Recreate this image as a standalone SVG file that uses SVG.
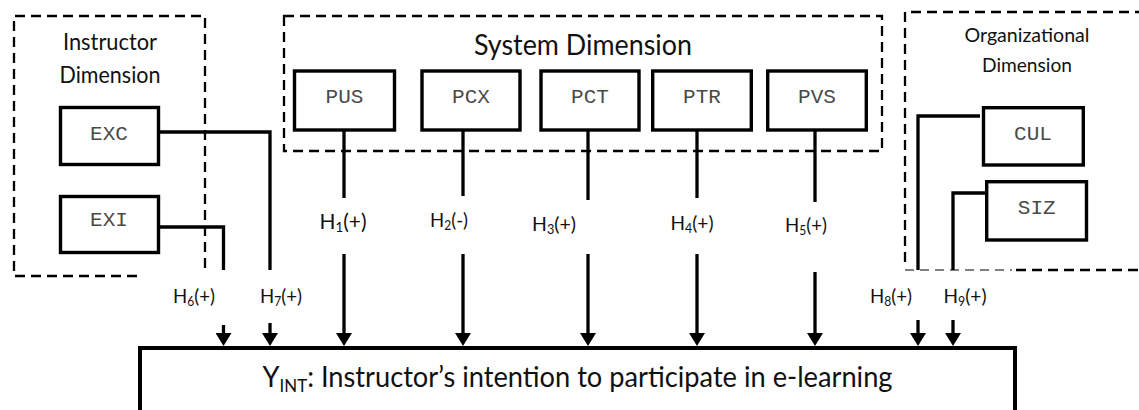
<svg xmlns="http://www.w3.org/2000/svg" width="1139" height="410" viewBox="0 0 1139 410">
  <defs>
    <marker id="head" viewBox="0 0 13 16" markerWidth="13" markerHeight="16" refX="7" refY="8" orient="auto" markerUnits="userSpaceOnUse">
      <path d="M0,0 L13,8 L0,16 Z" fill="#000"/>
    </marker>
    <style>
      .dash { fill: none; stroke: #000; stroke-width: 2.3; stroke-dasharray: 10 6; }
      .box { fill: #fff; stroke: #000; stroke-width: 3.4; }
      .code { font-family: "Liberation Mono", "Courier New", monospace; font-size: 21px; fill: #4a4a4a; text-anchor: middle; }
      .lbl { font-family: "Lato", "Open Sans", "Liberation Sans", sans-serif; fill: #111; text-anchor: middle; }
      .wire { fill: none; stroke: #000; stroke-width: 3.3; }
      .arr { fill: none; stroke: #000; stroke-width: 3.3; marker-end: url(#head); }
    </style>
  </defs>
  <rect width="1139" height="410" fill="#fff"/>

  <!-- dimension groupings -->
  <g id="instructor-dimension">
    <path class="dash" d="M137,276 H14 V16 H205 V270"/>
    <text class="lbl" x="110" y="50" font-size="23" textLength="94" lengthAdjust="spacingAndGlyphs">Instructor</text>
    <text class="lbl" x="110" y="83" font-size="23" textLength="101" lengthAdjust="spacingAndGlyphs">Dimension</text>
  </g>
  <g id="system-dimension">
    <rect class="dash" x="284" y="16" width="598" height="135"/>
    <text class="lbl" x="583" y="55" font-size="29" textLength="218" lengthAdjust="spacingAndGlyphs">System Dimension</text>
  </g>
  <g id="organizational-dimension">
    <path class="dash" d="M905,262 V12 H1139"/>
    <path fill="none" stroke="#000" stroke-width="1.2" stroke-dasharray="9 6" d="M905,270 H1012"/>
    <path class="dash" d="M1016,270 H1139"/>
    <text class="lbl" x="1027" y="41.5" font-size="20" textLength="125" lengthAdjust="spacingAndGlyphs">Organizational</text>
    <text class="lbl" x="1027" y="71.5" font-size="20" textLength="90" lengthAdjust="spacingAndGlyphs">Dimension</text>
  </g>

  <!-- connectors -->
  <g id="connectors">
    <!-- instructor factors -->
    <path class="wire" d="M160,227 H223.5 V270"/>
    <path class="arr" d="M223.5,325 V340"/>
    <path class="wire" d="M160,132 H270 V270"/>
    <path class="arr" d="M270,323 V340"/>
    <!-- system factors -->
    <path class="wire" d="M344,131 V198"/>
    <path class="arr" d="M344,254 V340"/>
    <path class="wire" d="M463,131 V196"/>
    <path class="arr" d="M463,254 V340"/>
    <path class="wire" d="M588,131 V200"/>
    <path class="arr" d="M588,254 V340"/>
    <path class="wire" d="M697,131 V198"/>
    <path class="arr" d="M697,254 V340"/>
    <path class="wire" d="M815,131 V202"/>
    <path class="arr" d="M815,272 V340"/>
    <!-- organizational factors -->
    <path class="wire" d="M980,116 H918 V270"/>
    <path class="arr" d="M918,320 V340"/>
    <path class="wire" d="M985,193 H953 V270"/>
    <path class="arr" d="M953,320 V340"/>

    <!-- hypothesis labels -->
    <text class="lbl" x="343" y="229" font-size="22" textLength="47" lengthAdjust="spacingAndGlyphs">H<tspan font-size="14" dy="3">1</tspan><tspan dy="-3">(+)</tspan></text>
    <text class="lbl" x="449" y="227" font-size="20" textLength="38" lengthAdjust="spacingAndGlyphs">H<tspan font-size="13" dy="3">2</tspan><tspan dy="-3">(-)</tspan></text>
    <text class="lbl" x="554" y="231" font-size="20" textLength="44" lengthAdjust="spacingAndGlyphs">H<tspan font-size="13" dy="3">3</tspan><tspan dy="-3">(+)</tspan></text>
    <text class="lbl" x="692" y="230" font-size="20" textLength="43" lengthAdjust="spacingAndGlyphs">H<tspan font-size="13" dy="3">4</tspan><tspan dy="-3">(+)</tspan></text>
    <text class="lbl" x="806" y="232" font-size="20" textLength="42" lengthAdjust="spacingAndGlyphs">H<tspan font-size="13" dy="3">5</tspan><tspan dy="-3">(+)</tspan></text>
    <text class="lbl" x="194" y="303" font-size="20" textLength="42" lengthAdjust="spacingAndGlyphs">H<tspan font-size="13" dy="3">6</tspan><tspan dy="-3">(+)</tspan></text>
    <text class="lbl" x="281" y="303" font-size="20" textLength="42" lengthAdjust="spacingAndGlyphs">H<tspan font-size="13" dy="3">7</tspan><tspan dy="-3">(+)</tspan></text>
    <text class="lbl" x="891" y="303" font-size="20" textLength="42" lengthAdjust="spacingAndGlyphs">H<tspan font-size="13" dy="3">8</tspan><tspan dy="-3">(+)</tspan></text>
    <text class="lbl" x="965" y="303" font-size="20" textLength="43" lengthAdjust="spacingAndGlyphs">H<tspan font-size="13" dy="3">9</tspan><tspan dy="-3">(+)</tspan></text>
  </g>

  <!-- factor nodes -->
  <g id="EXC"><rect class="box" x="60.5" y="107.5" width="98" height="57"/><text class="code" x="109" y="139.5">EXC</text></g>
  <g id="EXI"><rect class="box" x="60.5" y="196.5" width="98" height="56"/><text class="code" x="109" y="226">EXI</text></g>
  <g id="PUS"><rect class="box" x="294.5" y="71" width="100" height="59"/><text class="code" x="344.5" y="103">PUS</text></g>
  <g id="PCX"><rect class="box" x="422" y="71" width="98" height="59"/><text class="code" x="471" y="103">PCX</text></g>
  <g id="PCT"><rect class="box" x="541" y="71" width="98" height="59"/><text class="code" x="590" y="103">PCT</text></g>
  <g id="PTR"><rect class="box" x="652.7" y="71" width="98.6" height="59"/><text class="code" x="702" y="103">PTR</text></g>
  <g id="PVS"><rect class="box" x="767.7" y="71" width="98.6" height="59"/><text class="code" x="817" y="103">PVS</text></g>
  <g id="CUL"><rect class="box" x="983.5" y="107.7" width="99.8" height="57.3"/><text class="code" x="1033" y="139.5">CUL</text></g>
  <g id="SIZ"><rect class="box" x="986.7" y="181.7" width="99.8" height="58.3"/><text class="code" x="1036.7" y="213.5">SIZ</text></g>

  <!-- outcome node -->
  <g id="Y_INT">
    <rect x="140" y="348" width="875" height="100" fill="#fff" stroke="#000" stroke-width="4"/>
    <text class="lbl" x="262.5" y="386.5" font-size="29" style="text-anchor:start" textLength="630" lengthAdjust="spacingAndGlyphs">Y<tspan font-size="18" dy="5">INT</tspan><tspan dy="-5">: Instructor’s intention to participate in e-learning</tspan></text>
  </g>
</svg>
